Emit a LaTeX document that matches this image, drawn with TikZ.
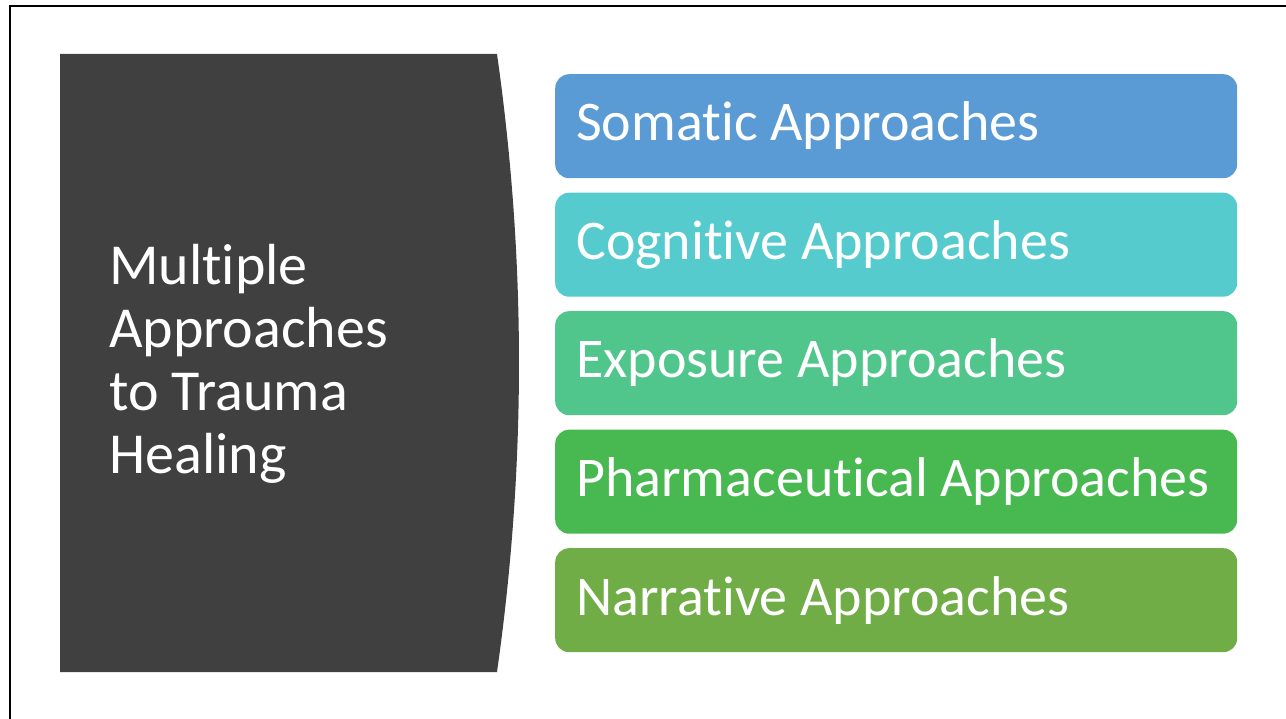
\documentclass[tikz,border=0pt]{standalone}
\usepackage{fontspec}
\setmainfont{Carlito}[RawFeature={-liga}]
\definecolor{panel}{HTML}{404040}
\definecolor{somatic}{HTML}{5B9BD5}
\definecolor{cognitive}{HTML}{55CBCD}
\definecolor{exposure}{HTML}{50C68C}
\definecolor{pharma}{HTML}{47B950}
\definecolor{narrative}{HTML}{70AD47}
\tikzset{
  approachbox/.style={fill=#1, draw=none, rounded corners=14pt,
    minimum width=682pt, minimum height=104pt, anchor=north west, inner sep=0pt},
  boxtext/.style={text=white, anchor=base west, inner sep=0pt,
    font=\fontsize{56}{64}\selectfont},
  titletext/.style={text=white, anchor=base west, inner sep=0pt, align=left,
    font=\fontsize{58}{63}\selectfont},
}
\begin{document}
\begin{tikzpicture}[x=1pt, y=-1pt]
  \useasboundingbox (0,0) rectangle (1286,719);
  % frame edges along the top and the left
  \draw[line width=2.5pt, black] (1286,6) -- (10,6) -- (10,719);
  % dark title panel with a bowed right edge
  \fill[panel] (60,54) -- (497,54)
    .. controls (526.3,260) and (526.3,466) .. (497,672) -- (60,672) -- cycle;
  % multi-line title, anchored on the baseline of its last line
  \node[titletext] (title) at (109,473)
    {Multiple\\Approaches\\to Trauma\\Healing};
  % stacked approach bars
  \node[approachbox=somatic]   (b1) at (555,74)  {};
  \node[approachbox=cognitive] (b2) at (555,192.5) {};
  \node[approachbox=exposure]  (b3) at (555,311) {};
  \node[approachbox=pharma]    (b4) at (555,429.5) {};
  \node[approachbox=narrative] (b5) at (555,548) {};
  \node[boxtext] (t1) at (576,141)   {Somatic Approaches};
  \node[boxtext] (t2) at (576,259.5) {Cognitive Approaches};
  \node[boxtext] (t3) at (576,378)   {Exposure Approaches};
  \node[boxtext] (t4) at (576,496.5) {Pharmaceutical Approaches};
  \node[boxtext] (t5) at (576,615)   {Narrative Approaches};
\end{tikzpicture}
\end{document}
